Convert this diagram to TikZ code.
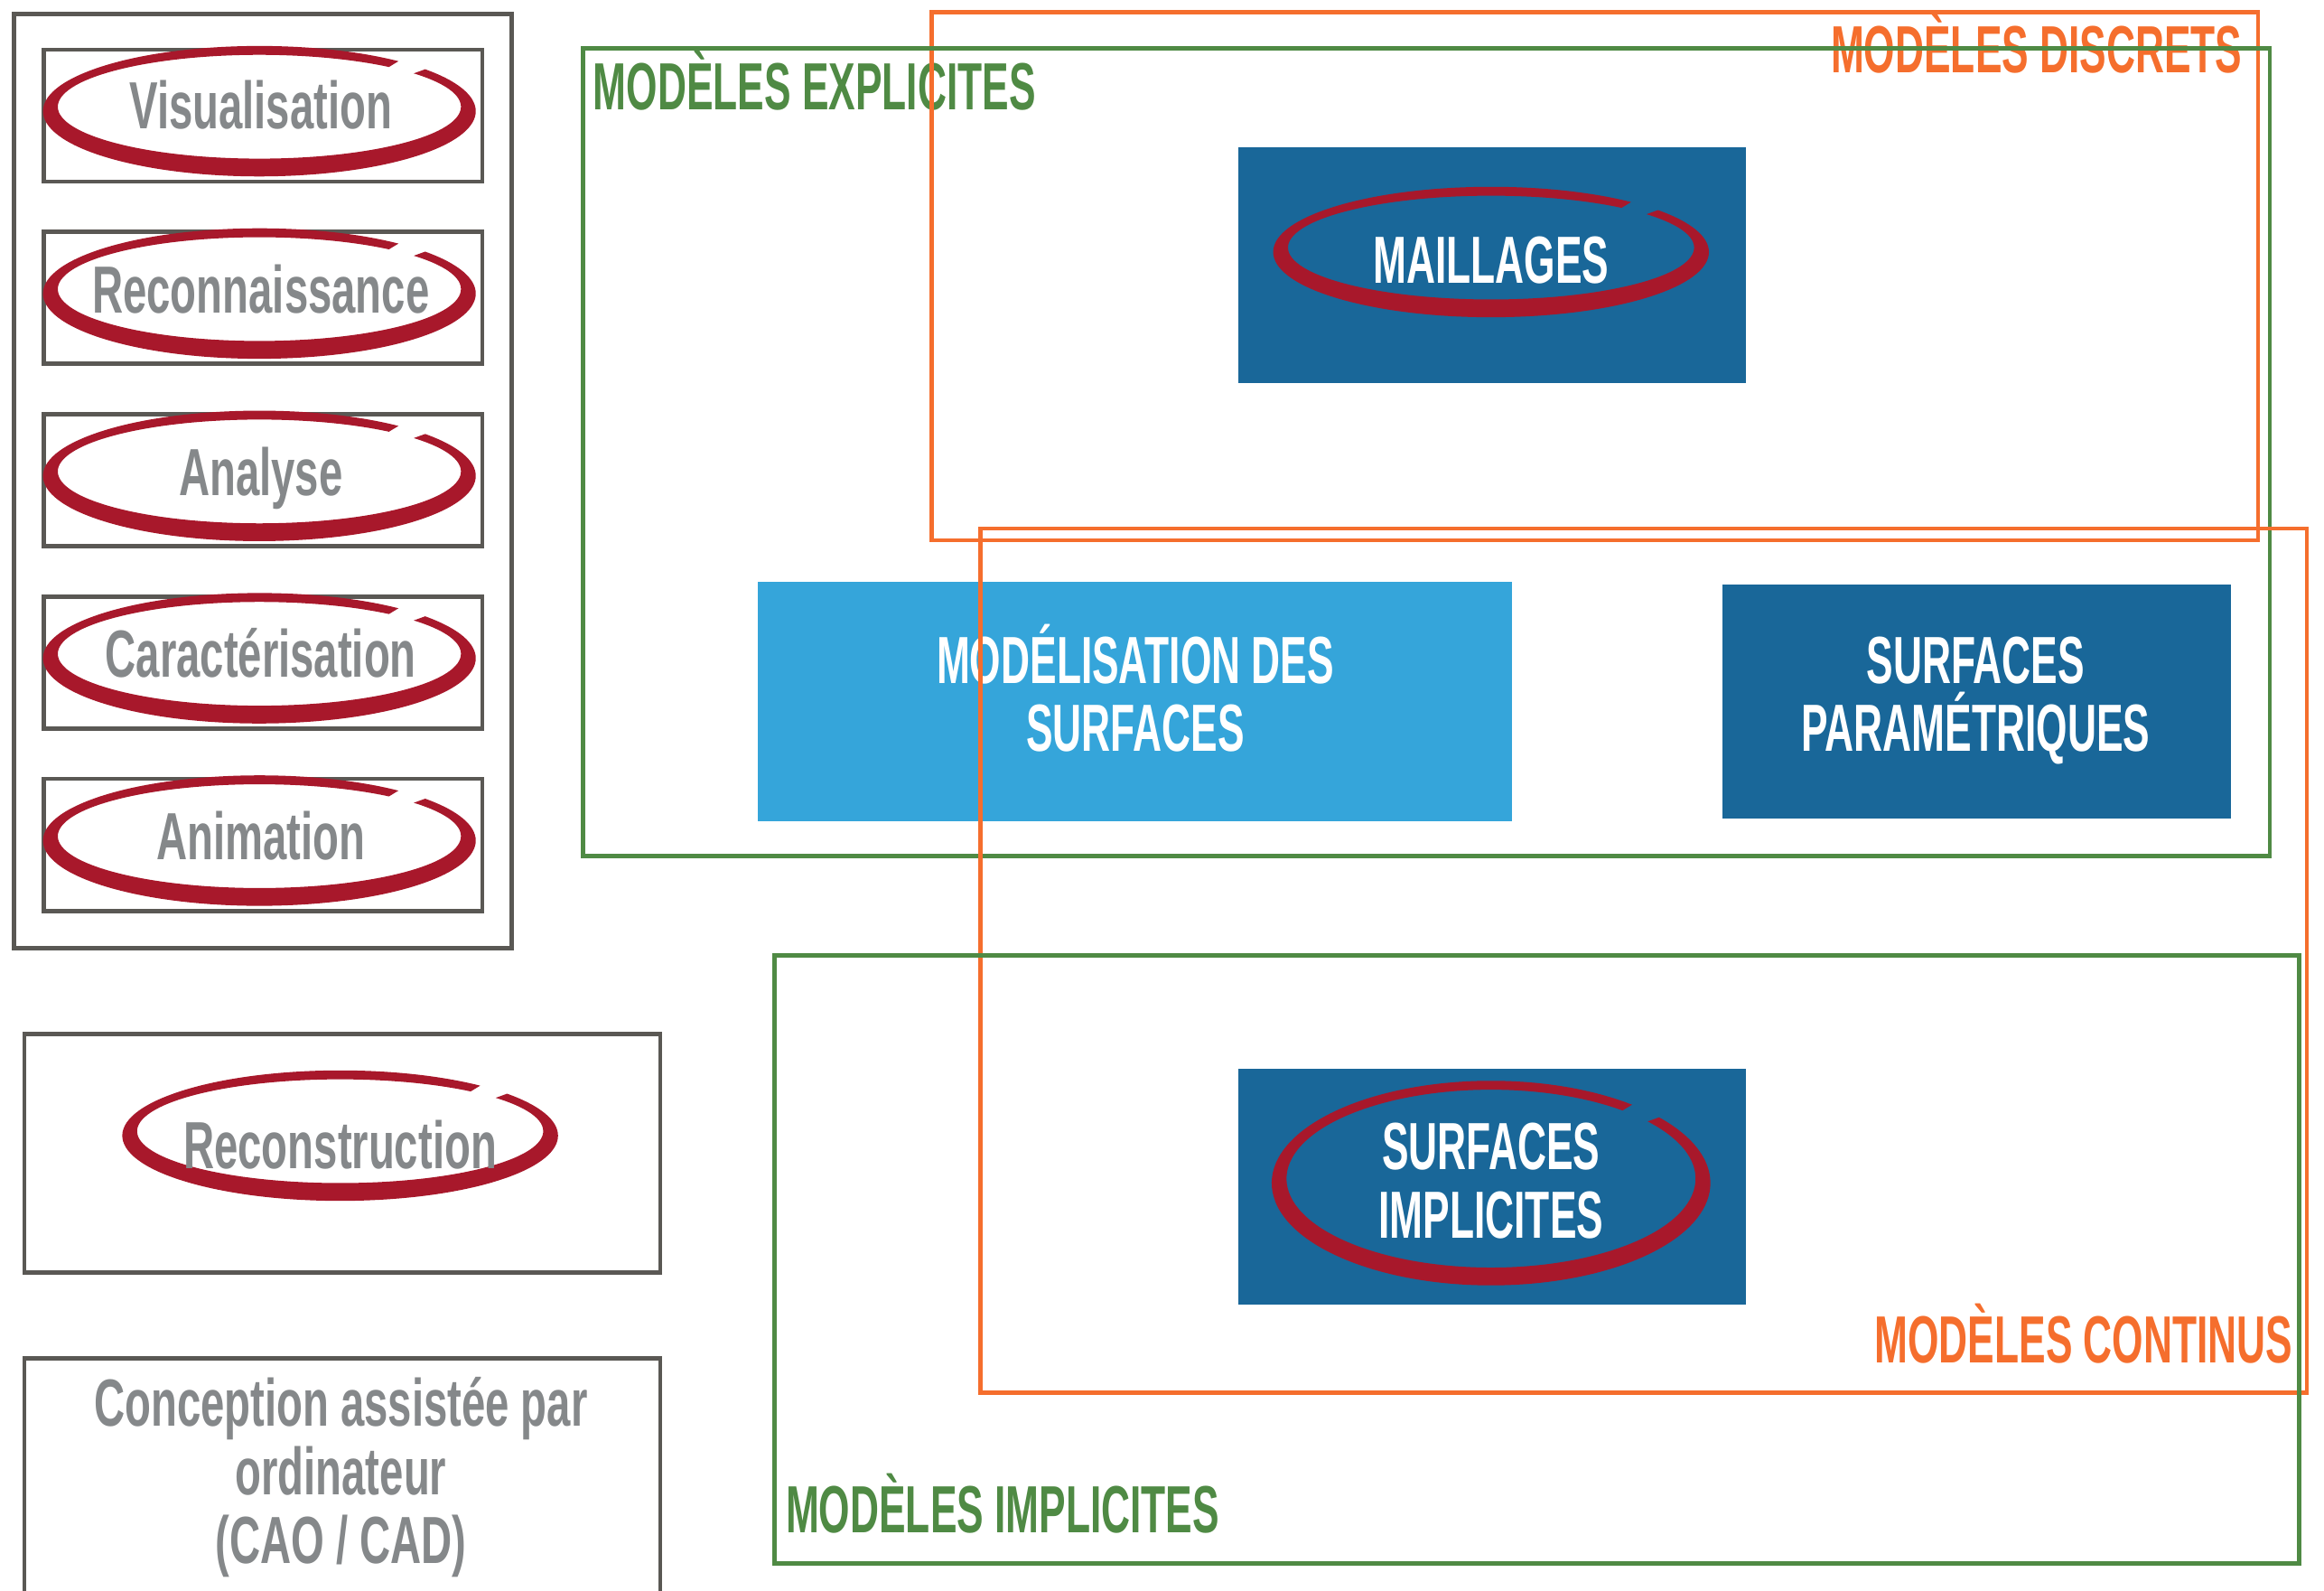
\documentclass[tikz,border=0pt]{standalone}
\usepackage{fontspec}
\setmainfont{Liberation Sans}
\newfontfamily\dincap{Liberation Sans}[FakeStretch=0.60]
\newfontfamily\dinmix{Liberation Sans}[FakeStretch=0.64]
\usetikzlibrary{calc}
\definecolor{boxgray}{RGB}{90,88,84}
\definecolor{textgray}{RGB}{133,136,138}
\definecolor{ringred}{RGB}{168,24,43}
\definecolor{darkblue}{RGB}{25,103,153}
\definecolor{lightblue}{RGB}{53,165,218}
\definecolor{framegreen}{RGB}{79,138,68}
\definecolor{frameorange}{RGB}{245,110,45}
\tikzset{
  graybox/.style={draw=boxgray,line width=2.8pt,inner sep=0pt,anchor=north west},
  fillbox/.style={fill=#1,inner sep=0pt,anchor=north west},
  groupframe/.style={draw=#1,line width=2.9pt,inner sep=0pt,anchor=north west},
  graytxt/.style={text=textgray,font=\dinmix\bfseries\fontsize{45}{46}\selectfont,anchor=base,inner sep=0pt},
  whitetxt/.style={text=white,font=\dincap\bfseries\fontsize{45}{46}\selectfont,anchor=base,inner sep=0pt},
  grouplabel/.style={text=#1,font=\dincap\bfseries\fontsize{45}{46}\selectfont,inner sep=0pt}
}
% brush ring: centre x, centre y, x radius, y radius
\newcommand\brushring[4]{%
  \pgfmathsetmacro\ringai{#3-10}%
  \pgfmathsetmacro\ringbi{#4-9}%
  \fill[ringred] ($(#1,#2)+(-50:{#3} and {#4})$)
    arc[start angle=-50,end angle=-400,x radius=#3,y radius=#4]
    -- ($(#1,#2-3)+(-400:{\ringai} and {\ringbi})$)
    arc[start angle=-400,end angle=-50,x radius=\ringai,y radius=\ringbi]
    -- cycle;
}
\begin{document}
\begin{tikzpicture}[x=1pt,y=-1pt]
\useasboundingbox (0,0) rectangle (1568,1073);

% ---------- left column ----------
\node[graybox,minimum width=336pt,minimum height=630pt] (apps) at (8,8) {};

\node[graybox,minimum width=296pt,minimum height=89pt] (visbox) at (28,32) {};
\brushring{175}{75}{146}{44}
\node[graytxt] (vis) at (176,87) {Visualisation};

\node[graybox,minimum width=296pt,minimum height=89pt] (recbox) at (28,155) {};
\brushring{175}{198}{146}{44}
\node[graytxt] (rec) at (176,211) {Reconnaissance};

\node[graybox,minimum width=296pt,minimum height=89pt] (anabox) at (28,278) {};
\brushring{175}{321}{146}{44}
\node[graytxt] (ana) at (176,334) {Analyse};

\node[graybox,minimum width=296pt,minimum height=89pt] (carbox) at (28,401) {};
\brushring{175}{444}{146}{44}
\node[graytxt] (car) at (176,457) {Caractérisation};

\node[graybox,minimum width=296pt,minimum height=89pt] (anibox) at (28,524) {};
\brushring{175}{567}{146}{44}
\node[graytxt] (ani) at (176,580) {Animation};

\node[graybox,minimum width=429pt,minimum height=161pt] (recobox) at (15,696) {};
\brushring{229.5}{766}{147}{44}
\node[graytxt] (reco) at (229.5,788) {Reconstruction};

\node[graybox,minimum width=429pt,minimum height=220pt] (caobox) at (15,915) {};
\node[graytxt] (cao) at (230,962) {\begin{tabular}[t]{@{}c@{}}Conception assistée par\\ordinateur\\(CAO / CAD)\end{tabular}};

% ---------- coloured boxes ----------
\node[fillbox=darkblue,minimum width=343pt,minimum height=159pt] (meshbox) at (835,99) {};
\brushring{1006}{170}{147}{44}
\node[whitetxt] (mesh) at (1006,191) {MAILLAGES};

\node[fillbox=lightblue,minimum width=509pt,minimum height=162pt] (modbox) at (511,392) {};
\node[whitetxt] (mod) at (766,461) {\begin{tabular}[t]{@{}c@{}}MODÉLISATION DES\\SURFACES\end{tabular}};

\node[fillbox=darkblue,minimum width=343pt,minimum height=158pt] (parbox) at (1162,394) {};
\node[whitetxt] (par) at (1333,461) {\begin{tabular}[t]{@{}c@{}}SURFACES\\\smash{PARAMÉTRIQUES}\end{tabular}};

\node[fillbox=darkblue,minimum width=343pt,minimum height=159pt] (implbox) at (835,721) {};
\brushring{1006}{798}{148}{69}
\node[whitetxt] (impl) at (1006,789) {\begin{tabular}[t]{@{}c@{}}SURFACES\\IMPLICITES\end{tabular}};

% ---------- group labels ----------
\node[grouplabel=framegreen,anchor=base west] (lexpl) at (400,74) {MODÈLES EXPLICITES};
\node[grouplabel=frameorange,anchor=base east] (ldisc) at (1513,49) {MODÈLES DISCRETS};
\node[grouplabel=frameorange,anchor=base east] (lcont) at (1547,919) {MODÈLES CONTINUS};
\node[grouplabel=framegreen,anchor=base west] (limpl) at (530,1034) {MODÈLES IMPLICITES};

% ---------- group frames ----------
\node[groupframe=frameorange,minimum width=895pt,minimum height=356pt] (disc) at (627,7) {};
\node[groupframe=framegreen,minimum width=1138pt,minimum height=545pt] (expl) at (392,31) {};
\node[groupframe=frameorange,minimum width=895pt,minimum height=583pt] (cont) at (660,355) {};
\node[groupframe=framegreen,minimum width=1029pt,minimum height=410pt] (implf) at (521,643) {};
\end{tikzpicture}
\end{document}
